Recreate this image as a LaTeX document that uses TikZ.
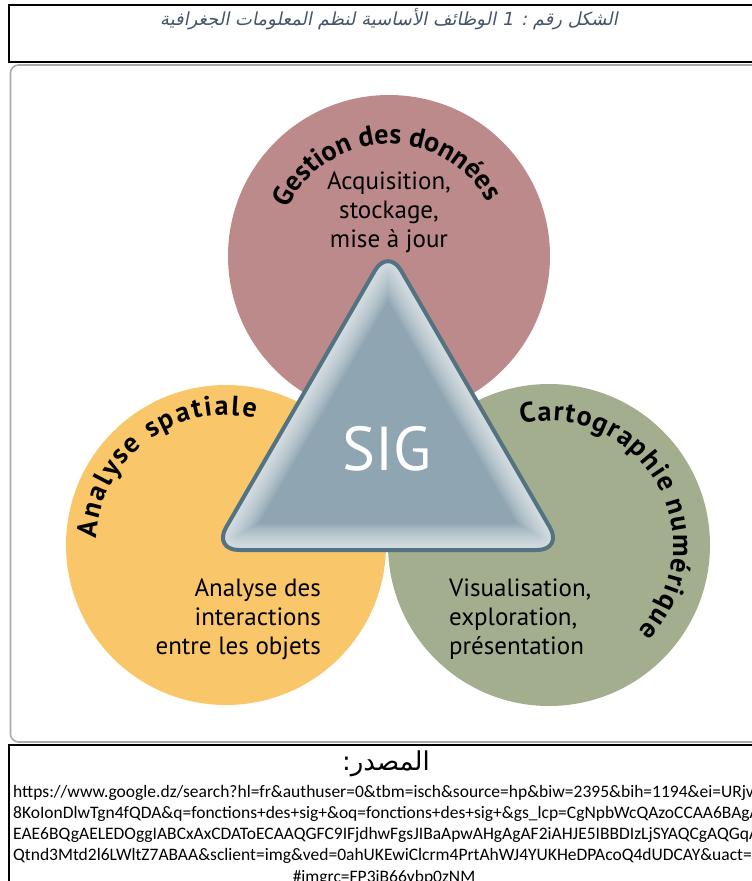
\documentclass[tikz,border=0pt]{standalone}
\usepackage{fontspec}
\setmainfont{PT Sans}
\newfontfamily\urlfont{Carlito}
\newfontfamily\arabicfont[Script=Arabic]{DejaVu Sans}
\newfontfamily\arabicslant[Script=Arabic,FakeSlant=0.2]{DejaVu Sans}
\TeXXeTstate=1
\usetikzlibrary{decorations.text}

\definecolor{rose}{RGB}{188,138,138}
\definecolor{ocre}{RGB}{249,198,106}
\definecolor{sauge}{RGB}{163,174,143}
\definecolor{ardoise}{RGB}{84,115,130}
\definecolor{sigfond}{RGB}{143,166,178}
\definecolor{legende}{RGB}{68,84,106}
\definecolor{cadre}{RGB}{170,170,170}

\newcommand\titre{\bfseries\fontsize{28}{28}\selectfont}

\tikzset{
  cercle/.style={circle, inner sep=0pt, minimum size=#1},
  corps/.style={font=\fontsize{25}{29}\selectfont, inner sep=0pt},
  lien/.style={font=\urlfont\fontsize{17.5}{21}\selectfont, inner sep=0pt},
  boite/.style={line width=1.5pt},
}

\begin{document}
\begin{tikzpicture}[x=1pt,y=1pt]
  \useasboundingbox (0,0) rectangle (752,-881);
  \clip (0,0) rectangle (752,-881);

  %cadres
  \draw[boite] (9,-5) rectangle (800,-62);
  \draw[cadre, line width=1.6pt, rounded corners=8pt] (10.5,-65) rectangle (800,-742);
  \draw[boite] (9,-745) rectangle (800,-900);

  \node[text=legende, font=\arabicslant\fontsize{18}{22}\selectfont] (legende) at (389,-19)
    {\beginR الشكل رقم :  1 الوظائف الأساسية لنظم المعلومات الجغرافية\endR};

  %les trois cercles
  \node[cercle=322pt, fill=rose] (gestion) at (389,-256) {};
  \node[cercle=320pt, fill=ocre] (analyse) at (226,-545) {};
  \node[cercle=322pt, fill=sauge] (carto) at (549,-545) {};

  %titres courbes
  \path[decorate, decoration={text along path, text={|\titre|Gestion des données}, text align=fit to path}]
    ([shift={(155:112)}]gestion.center) arc[start angle=155, end angle=30, radius=112];
  \path[decorate, decoration={text along path, text={|\titre|Analyse spatiale}, text align=fit to path}]
    ([shift={(177:130)}]analyse.center) arc[start angle=177, end angle=77, radius=130];
  \path[decorate, decoration={text along path, text={|\titre|Cartographie numérique}, text align=fit to path}]
    ([shift={(103:124)}]carto.center) arc[start angle=103, end angle=-44, radius=124];

  %textes
  \node[corps, align=center] (acqui) at (389,-212) {Acquisition,\\stockage,\\mise à jour};
  \node[corps, align=right, anchor=east] (inter) at (321,-619) {Analyse des\\interactions\\entre les objets};
  \node[corps, align=left, anchor=west] (visu) at (449,-619) {Visualisation,\\exploration,\\présentation};

  %triangle SIG
  \coordinate (ta) at (388,-248);
  \coordinate (tr) at (563,-550);
  \coordinate (tl) at (213,-550);
  \begin{scope}
    \clip[rounded corners=26pt] (ta) -- (tr) -- (tl) -- cycle;
    \fill[sigfond] (200,-230) rectangle (580,-570);
    \foreach \w in {4,8,...,52}
      \draw[white, opacity=0.08, line width=\w pt, rounded corners=26pt] (ta) -- (tr) -- (tl) -- cycle;
  \end{scope}
  \draw[ardoise, line width=4pt, rounded corners=26pt] (ta) -- (tr) -- (tl) -- cycle;
  \node[text=white, font=\fontsize{62}{62}\selectfont] (sig) at (387,-449) {SIG};

  %source
  \node[font=\arabicfont\fontsize{26}{30}\selectfont] (source) at (386,-764) {\beginR المصدر:\endR};
  \node[lien, anchor=base west] (l1) at (13,-797) {https://www.google.dz/search?hl=fr\&authuser=0\&tbm=isch\&source=hp\&biw=2395\&bih=1194\&ei=URjvX8};
  \node[lien, anchor=base west] (l2) at (13,-818) {8KoIonDlwTgn4fQDA\&q=fonctions+des+sig+\&oq=fonctions+des+sig+\&gs\_lcp=CgNpbWcQAzoCCAA6BAgAE};
  \node[lien, anchor=base west] (l3) at (13,-839) {EAE6BQgAELEDOggIABCxAxCDAToECAAQGFC9IFjdhwFgsJIBaApwAHgAgAF2iAHJE5IBBDIzLjSYAQCgAQGqAQ};
  \node[lien, anchor=base west] (l4) at (13,-860) {Qtnd3Mtd2l6LWltZ7ABAA\&sclient=img\&ved=0ahUKEwiClcrm4PrtAhWJ4YUKHeDPAcoQ4dUDCAY\&uact=5};
  \node[lien, anchor=base] (l5) at (384,-882) {\#imgrc=FP3iB66ybp0zNM};
\end{tikzpicture}
\end{document}
